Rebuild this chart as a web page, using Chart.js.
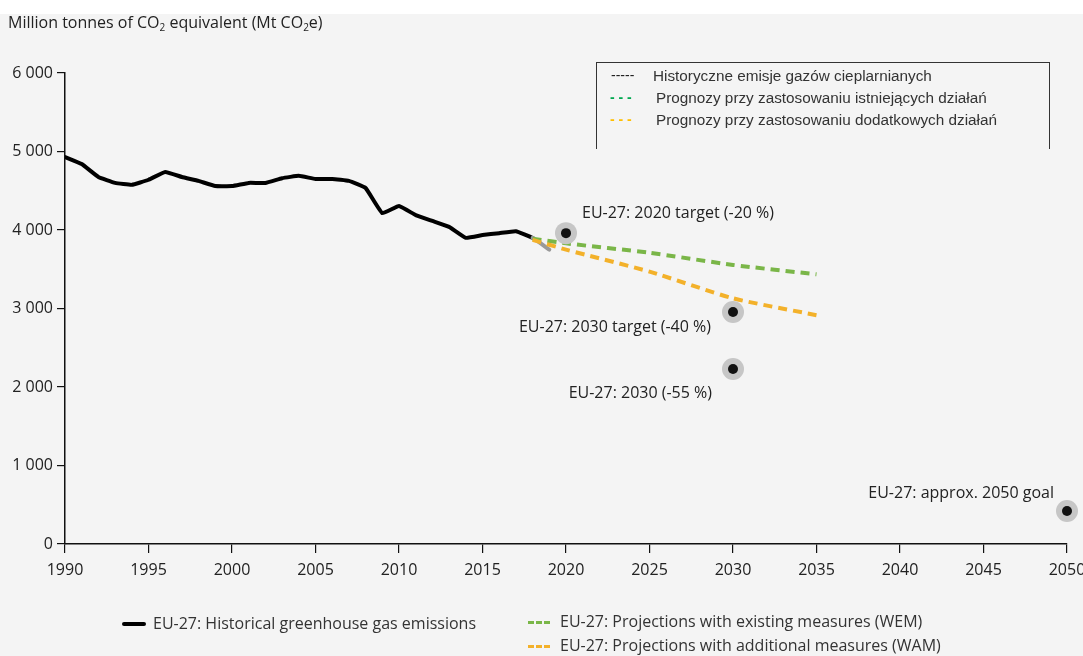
<!DOCTYPE html>
<html>
<head>
<meta charset="utf-8">
<script src="https://cdn.jsdelivr.net/npm/chart.js@4/dist/chart.umd.min.js"></script>
<style>
  html, body { margin: 0; padding: 0; }
  body { width: 1083px; height: 656px; background: #f4f4f4; position: relative; overflow: hidden; font-family: 'Open Sans', sans-serif; color: #222; }
  #topStrip { position: absolute; left: 0; top: 0; width: 1083px; height: 14px; background: #fff; }
  #yTitle { position: absolute; left: 8px; top: 11px; font-size: 16px; white-space: nowrap; }
  #yTitle sub { font-size: 10px; vertical-align: -3px; line-height: 0; }
  #chartWrap { position: absolute; left: 0; top: 0; width: 1083px; height: 656px; }
  #plBox { position: absolute; left: 596px; top: 62px; width: 452px; height: 86px; border: 1.5px solid #333; border-bottom: none; font-family: 'Liberation Sans', Arial, sans-serif; font-size: 15.3px; color: #333; }
  .pl { position: absolute; white-space: nowrap; }
  .legend { position: absolute; font-size: 16px; color: #333; white-space: nowrap; }
  .sw { position: absolute; height: 0; }
</style>
</head>
<body>
<div id="topStrip"></div>
<div id="chartWrap"><canvas id="ghgChart" width="1083" height="656"></canvas></div>
<div id="yTitle">Million tonnes of CO<sub>2</sub> equivalent (Mt CO<sub>2</sub>e)</div>

<div id="plBox">
  <div class="pl" style="left:14px;top:4px;color:#222;font-size:14px">-----</div>
  <div class="pl" style="left:56px;top:4px">Historyczne emisje gazów cieplarnianych</div>
  <div class="pl" style="left:13px;top:26px;color:#00a84f;font-size:14px;font-weight:bold">- - -</div>
  <div class="pl" style="left:59px;top:26px">Prognozy przy zastosowaniu istniejących działań</div>
  <div class="pl" style="left:13px;top:48px;color:#ffbf00;font-size:14px;font-weight:bold">- - -</div>
  <div class="pl" style="left:59px;top:48px">Prognozy przy zastosowaniu dodatkowych działań</div>
</div>

<div class="sw" style="left:122px;top:622px;width:24px;border-top:4px solid #000;border-radius:2px"></div>
<div class="legend" style="left:153px;top:612px">EU-27: Historical greenhouse gas emissions</div>
<div class="sw" style="left:528px;top:621px;width:22px;border-top:3.5px dashed #7ab648"></div>
<div class="legend" style="left:560px;top:610px">EU-27: Projections with existing measures (WEM)</div>
<div class="sw" style="left:528px;top:645px;width:22px;border-top:3.5px dashed #f3b12a"></div>
<div class="legend" style="left:560px;top:634px">EU-27: Projections with additional measures (WAM)</div>

<script>
// Historical emissions (Mt CO2e)
const histYears = [1990, 1991, 1992, 1993, 1994, 1995, 1996, 1997, 1998, 1999,
  2000, 2001, 2002, 2003, 2004, 2005, 2006, 2007, 2008, 2009,
  2010, 2011, 2012, 2013, 2014, 2015, 2016, 2017, 2018, 2019];
const histValues = [4930, 4840, 4675, 4600, 4575, 4640, 4740, 4675, 4625, 4560,
  4560, 4600, 4600, 4660, 4690, 4650, 4650, 4625, 4535, 4215,
  4305, 4190, 4115, 4040, 3900, 3935, 3960, 3985, 3900, 3750];

// Projections
const projYears = [2018, 2020, 2025, 2030, 2035];
const wemValues = [3890, 3830, 3710, 3555, 3435];
const wamValues = [3875, 3750, 3470, 3130, 2915];

// Targets
const targetYears = [2020, 2030, 2030, 2050];
const targetValues = [3960, 2955, 2230, 420];
const targetLabels = ['EU-27: 2020 target (-20 %)', 'EU-27: 2030 target (-40 %)', 'EU-27: 2030 (-55 %)', 'EU-27: approx. 2050 goal'];
const labelOffsets = [[16, -20, 'left'], [-22, 15, 'right'], [-21, 24, 'right'], [-13, -18, 'right']];

const yTicks = [0, 1000, 2000, 3000, 4000, 5000, 6000];

function pts(xs, ys) {
  return xs.map((x, i) => ({ x: x, y: ys[i] }));
}

const targetLabelPlugin = {
  id: 'targetLabels',
  afterDatasetsDraw(chart) {
    const ctx = chart.ctx;
    const xs = chart.scales.x, ys = chart.scales.y;
    ctx.save();
    ctx.font = '16px "Open Sans"';
    ctx.fillStyle = '#222';
    ctx.textBaseline = 'middle';
    targetLabels.forEach((t, i) => {
      const px = xs.getPixelForValue(targetYears[i]);
      const py = ys.getPixelForValue(targetValues[i]);
      ctx.textAlign = labelOffsets[i][2];
      ctx.fillText(t, px + labelOffsets[i][0], py + labelOffsets[i][1]);
    });
    ctx.restore();
  }
};

const ctx = document.getElementById('ghgChart').getContext('2d');
new Chart(ctx, {
  type: 'line',
  data: {
    datasets: [
      {
        label: 'targets dot',
        data: pts(targetYears, targetValues),
        showLine: false,
        clip: false,
        pointRadius: 5,
        pointBackgroundColor: '#111',
        pointBorderWidth: 0,
        order: 0
      },
      {
        label: 'targets halo',
        data: pts(targetYears, targetValues),
        showLine: false,
        clip: false,
        pointRadius: 11,
        pointBackgroundColor: '#c6c6c6',
        pointBorderWidth: 0,
        order: 1
      },
      {
        label: 'EU-27: Historical greenhouse gas emissions',
        data: pts(histYears, histValues),
        borderColor: '#000',
        borderWidth: 4,
        tension: 0.1,
        pointRadius: 0,
        borderCapStyle: 'round',
        borderJoinStyle: 'round',
        segment: {
          borderColor: c => c.p0.parsed.x >= 2018 ? '#999' : '#000'
        },
        order: 4
      },
      {
        label: 'EU-27: Projections with existing measures (WEM)',
        data: pts(projYears, wemValues),
        borderColor: '#7ab648',
        borderWidth: 4,
        borderDash: [9, 6],
        tension: 0.2,
        pointRadius: 0,
        order: 3
      },
      {
        label: 'EU-27: Projections with additional measures (WAM)',
        data: pts(projYears, wamValues),
        borderColor: '#f3b12a',
        borderWidth: 4,
        borderDash: [9, 6],
        tension: 0.2,
        pointRadius: 0,
        order: 2
      }
    ]
  },
  options: {
    responsive: false,
    animation: false,
    layout: { padding: { top: 73, right: 16, bottom: 72, left: 0 } },
    plugins: {
      legend: { display: false },
      tooltip: { enabled: false }
    },
    scales: {
      x: {
        type: 'linear',
        min: 1990,
        max: 2050,
        afterFit: s => { s.height = 40; s.paddingRight = 0; s.paddingLeft = 0; },
        afterBuildTicks: s => { s.ticks = []; for (let y = 1990; y <= 2050; y += 5) s.ticks.push({ value: y }); },
        border: { display: true, color: '#111', width: 1.5 },
        grid: { drawOnChartArea: false, drawTicks: true, tickLength: 9, color: '#111', lineWidth: 1.2 },
        ticks: {
          color: '#222',
          font: { family: 'Open Sans', size: 16 },
          padding: 8,
          maxRotation: 0,
          callback: v => String(v)
        }
      },
      y: {
        min: 0,
        max: 6000,
        afterFit: s => { s.width = 65; s.paddingTop = 0; s.paddingBottom = 0; },
        afterBuildTicks: s => { s.ticks = yTicks.map(v => ({ value: v })); },
        border: { display: true, color: '#111', width: 1.5 },
        grid: { drawOnChartArea: false, drawTicks: true, tickLength: 8, color: '#111', lineWidth: 1.2 },
        ticks: {
          color: '#222',
          font: { family: 'Open Sans', size: 16 },
          padding: 4,
          callback: v => String(v).replace(/\B(?=(\d{3})+(?!\d))/g, ' ')
        }
      }
    }
  },
  plugins: [targetLabelPlugin]
});
</script>
</body>
</html>
